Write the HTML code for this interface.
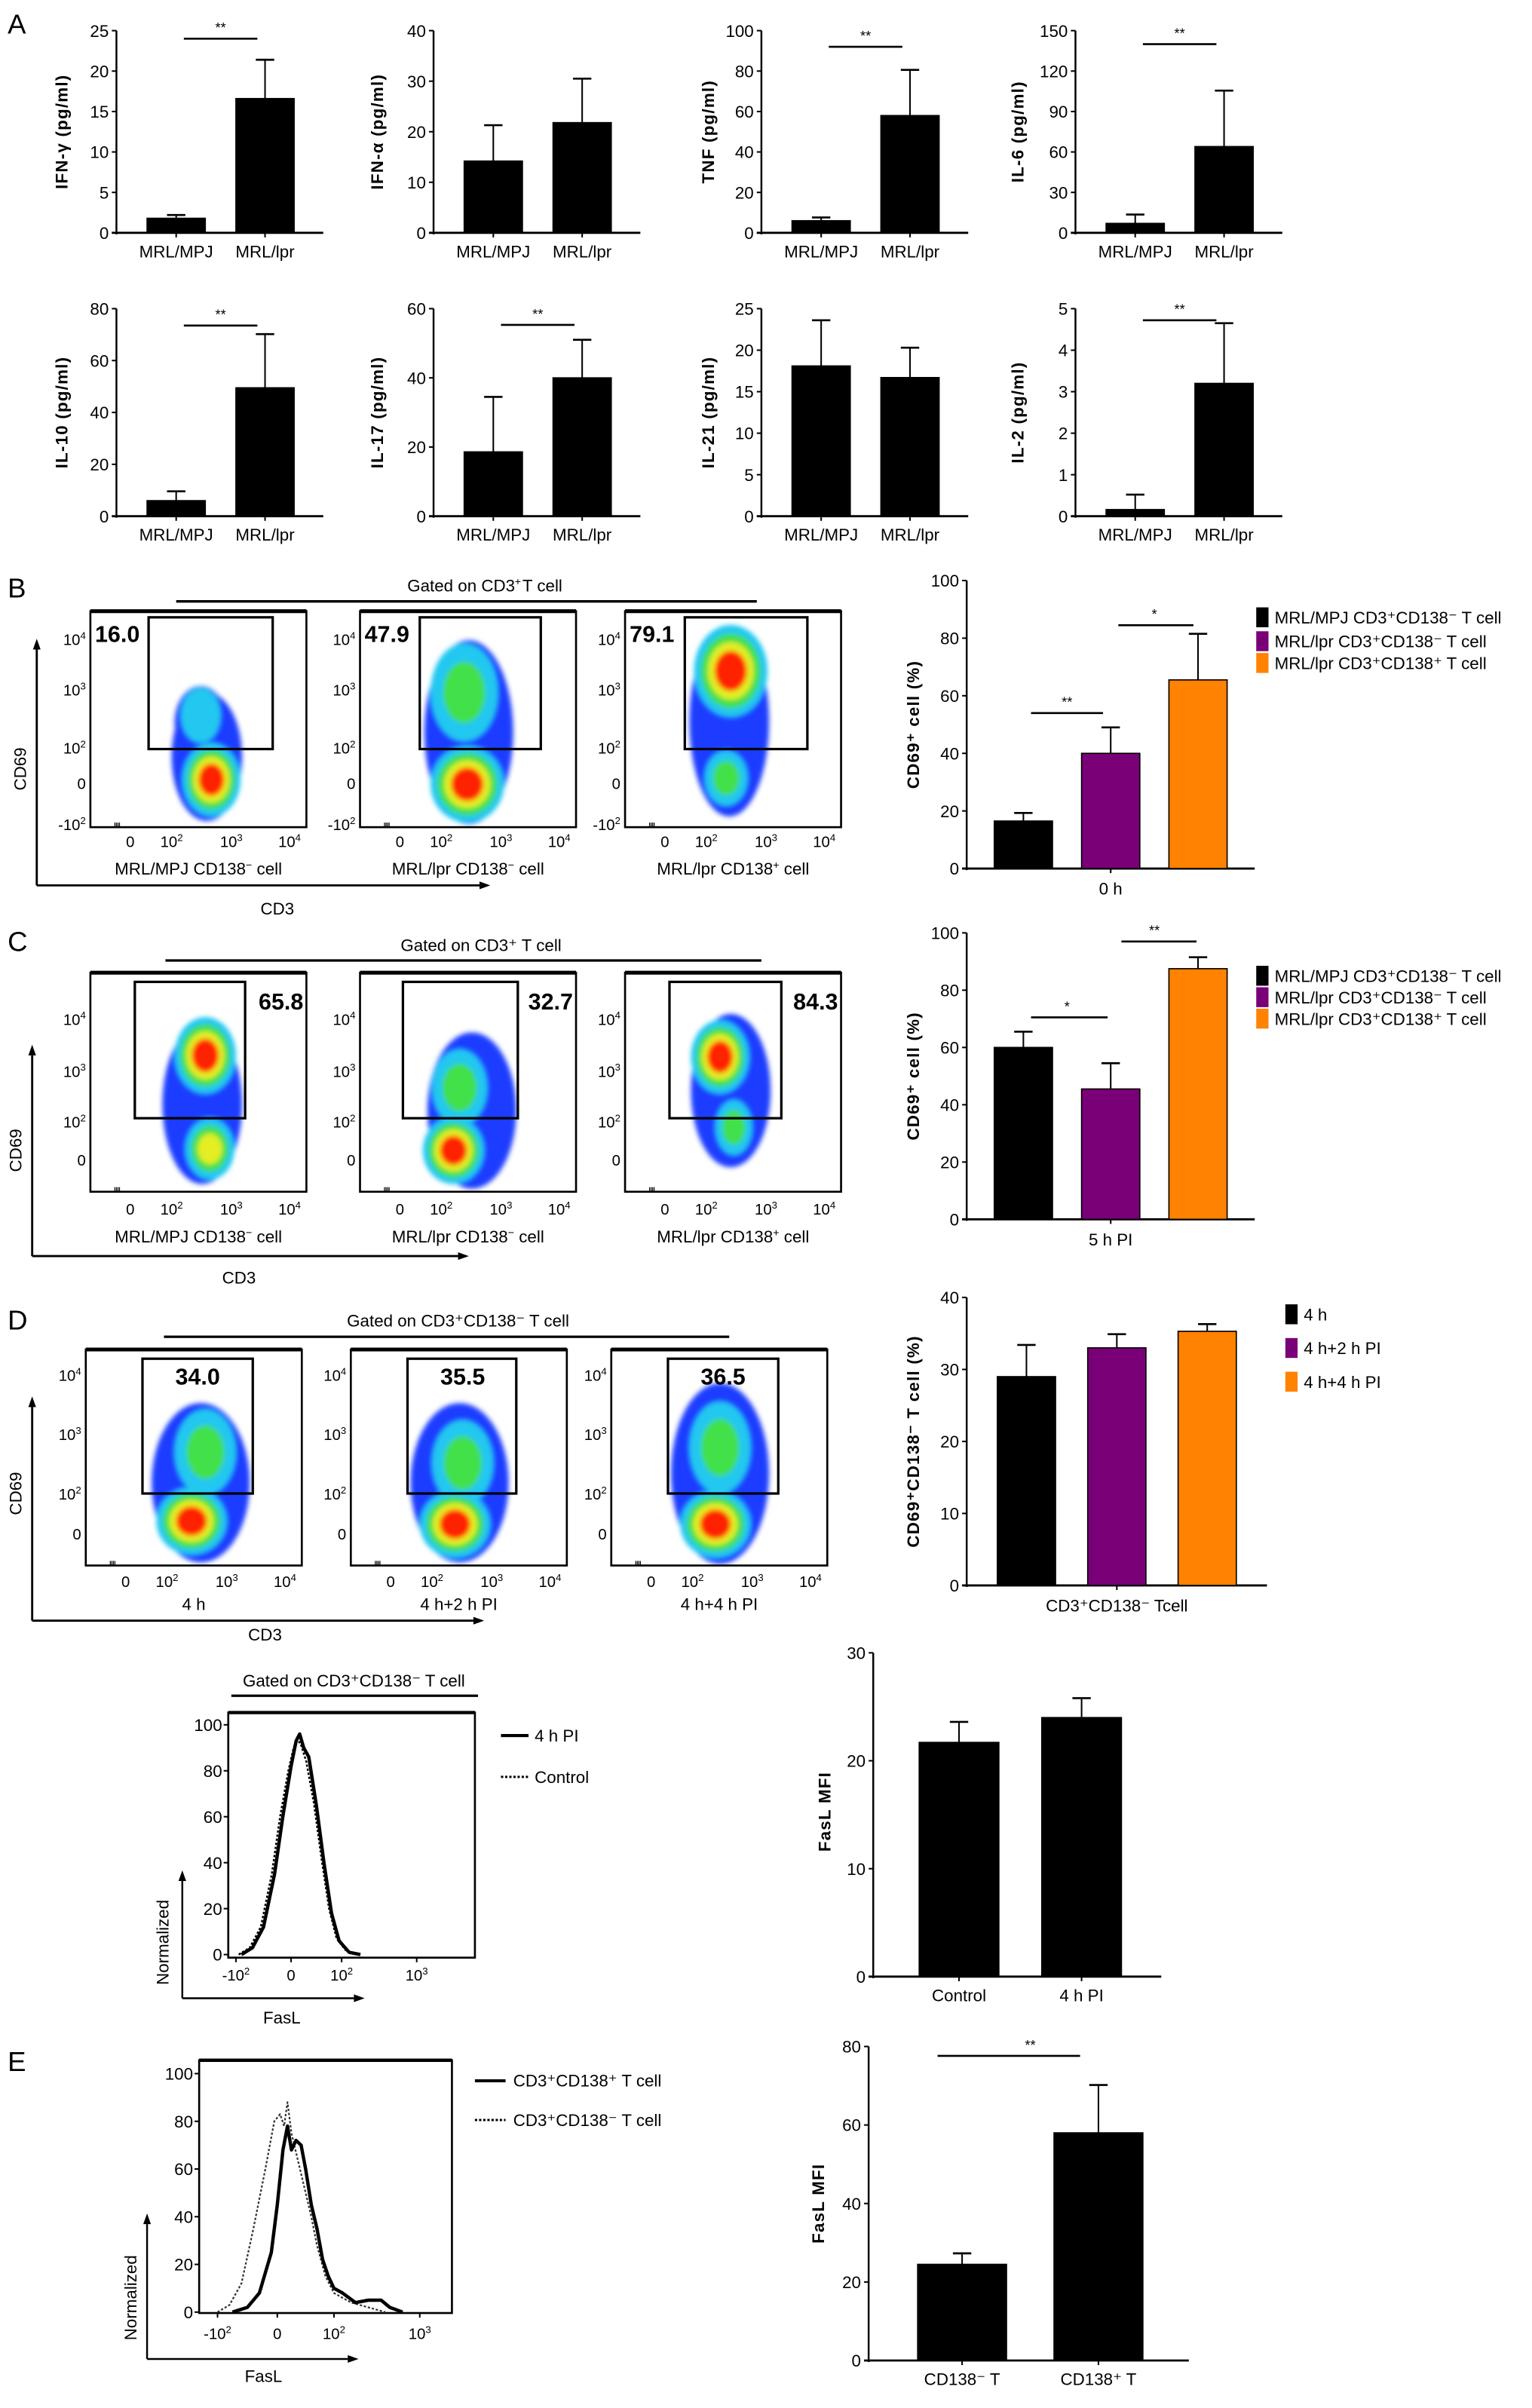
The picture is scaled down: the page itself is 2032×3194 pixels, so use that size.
<!DOCTYPE html>
<html><head><meta charset="utf-8"><style>
html,body{margin:0;padding:0;background:#fff;}
svg{display:block;font-family:"Liberation Sans",Arial,sans-serif;}
</style></head><body>
<svg id="fig" xmlns="http://www.w3.org/2000/svg" width="2032" height="3194" viewBox="0 0 1000 1572" preserveAspectRatio="none">
<defs>
<filter id="blur" x="-50%" y="-50%" width="200%" height="200%"><feGaussianBlur stdDeviation="1.6"/></filter>
</defs>
</svg>
<script>
// ---------- DATA ----------
const aCats = ['MRL/MPJ', 'MRL/lpr'];
const aTitles = ['IFN-γ (pg/ml)', 'IFN-α (pg/ml)', 'TNF (pg/ml)', 'IL-6 (pg/ml)', 'IL-10 (pg/ml)', 'IL-17 (pg/ml)', 'IL-21 (pg/ml)', 'IL-2 (pg/ml)'];
const aMeans = [[1.8, 16.6], [14.2, 21.8], [6, 58], [7, 64], [6, 49.5], [18.6, 40], [18.1, 16.7], [0.16, 3.2]];
const aErrTops = [[2.2, 21.4], [21.3, 30.5], [7.6, 80.6], [13.6, 105.5], [9.6, 70.2], [34.5, 51], [23.6, 20.3], [0.52, 4.65]];
const aMax = [25, 40, 100, 150, 80, 60, 25, 5];
const aStep = [5, 10, 20, 30, 20, 20, 5, 1];
const aSig = [24, null, 92, 140, 73.5, 55.3, null, 4.72];

const bCats = ['MRL/MPJ CD3⁺CD138⁻ T cell', 'MRL/lpr CD3⁺CD138⁻ T cell', 'MRL/lpr CD3⁺CD138⁺ T cell'];
const barColors = ['#000000', '#7a0078', '#ff8200'];
const bMeans = [16.5, 40, 65.5];
const bErrTops = [19.3, 49, 81.5];
const cMeans = [60, 45.5, 87.5];
const cErrTops = [65.5, 54.5, 91.5];
const flowPctB = ['16.0', '47.9', '79.1'];
const flowPctC = ['65.8', '32.7', '84.3'];
const flowPctD = ['34.0', '35.5', '36.5'];

const dCats = ['4  h', '4 h+2 h PI', '4 h+4 h PI'];
const dMeans = [29, 33, 35.3];
const dErrTops = [33.4, 34.9, 36.3];

const fCats = ['Control', '4 h PI'];
const fMeans = [21.7, 24];
const fErrTops = [23.6, 25.8];

const eCats = ['CD138⁻ T', 'CD138⁺ T'];
const eMeans = [24.5, 58];
const eErrTops = [27.3, 70.2];

const hDSolidX = [-0.9, -0.7, -0.5, -0.3, -0.15, 0, 0.1, 0.17, 0.25, 0.35, 0.5, 0.65, 0.8, 0.95, 1.1, 1.25];
const hDSolidY = [0, 3, 12, 35, 60, 82, 93, 96, 90, 86, 65, 40, 18, 6, 1, 0];
const hDDotX = [-0.95, -0.75, -0.55, -0.35, -0.2, -0.05, 0.05, 0.12, 0.2, 0.3, 0.45, 0.6, 0.75, 0.9, 1.05, 1.2];
const hDDotY = [0, 3, 12, 35, 60, 80, 90, 94, 91, 84, 66, 42, 20, 7, 2, 0];
const hESolidX = [-0.75, -0.5, -0.3, -0.1, 0, 0.1, 0.18, 0.25, 0.33, 0.42, 0.5, 0.6, 0.7, 0.8, 0.9, 1.0, 1.1, 1.25, 1.4, 1.55, 1.65, 1.8];
const hESolidY = [0, 2, 8, 25, 45, 68, 78, 68, 72, 70, 60, 45, 35, 22, 15, 10, 8, 4, 5, 5, 2, 0];
const hEDotX = [-1.0, -0.8, -0.6, -0.4, -0.2, -0.05, 0.05, 0.12, 0.18, 0.25, 0.35, 0.5, 0.6, 0.7, 0.85, 1.0, 1.2, 1.4, 1.6];
const hEDotY = [0, 3, 12, 35, 60, 80, 83, 78, 88, 75, 65, 50, 40, 28, 15, 8, 4, 2, 0];
const histTickVals = [-1, 0, 1, 2];
const histTickLabels = ['-10', '0', '10', '10'];
const histTickSups = ['2', '', '2', '3'];

// ---------- HELPERS ----------
const NS = 'http://www.w3.org/2000/svg';
const svg = document.getElementById('fig');
function el(tag, attrs, parent) {
  const e = document.createElementNS(NS, tag);
  for (const k in attrs) e.setAttribute(k, attrs[k]);
  (parent || svg).appendChild(e);
  return e;
}
function line(x1, y1, x2, y2, w, name, parent, dash) {
  const l = el('line', {x1, y1, x2, y2, stroke: '#000', 'stroke-width': w || 1}, parent);
  if (dash) l.setAttribute('stroke-dasharray', dash);
  
  
  return l;
}
function text(x, y, s, size, anchor, name, parent, extra) {
  const t = el('text', {x, y, 'font-size': size, 'text-anchor': anchor || 'middle', fill: '#000'}, parent);
  t.textContent = s;
  if (extra) for (const k in extra) t.setAttribute(k, extra[k]);
  
  
  return t;
}
function supText(x, y, base, sup, size, anchor, name, parent) {
  const t = el('text', {x, y, 'font-size': size, 'text-anchor': anchor || 'middle', fill: '#000'}, parent);
  const t1 = el('tspan', {}, t); t1.textContent = base;
  if (sup) { const t2 = el('tspan', {dy: -size * 0.4, 'font-size': size * 0.65}, t); t2.textContent = sup; }
  
  
  return t;
}
function arrowHead(x, y, dir, parent) {
  let pts;
  if (dir === 'up') pts = `${x},${y} ${x - 2.5},${y + 7} ${x + 2.5},${y + 7}`;
  else pts = `${x},${y} ${x - 7},${y - 2.5} ${x - 7},${y + 2.5}`;
  const p = el('polygon', {points: pts, fill: '#000'}, parent);
  
  
}

function barChart(o) {
  const g = el('g', {});
  
  
  const yS = v => o.yBot - (v / o.max) * (o.yBot - o.yTop);
  const xC = i => o.x0 + o.start + i * o.step + o.bw / 2;
  line(o.x0, o.yTop, o.x0, o.yBot + 1, 1.2, 'y-axis', g);
  line(o.x0 - 3, o.yBot, o.xEnd, o.yBot, 1.4, 'x-axis', g);
  for (let v = 0; v <= o.max + 1e-9; v += o.tick) {
    const y = yS(v);
    line(o.x0 - 3, y, o.x0, y, 1, 'y-tick', g);
    text(o.x0 - 5, y + 4, String(+v.toFixed(2)), o.fs || 11, 'end', 'y-tick-label', g);
  }
  o.means.forEach((m, i) => {
    const c = xC(i);
    const r = el('rect', {x: c - o.bw / 2, y: yS(m), width: o.bw, height: o.yBot - yS(m), fill: o.colors ? o.colors[i] : '#000', stroke: '#000', 'stroke-width': 0.8}, g);
    
    
    line(c, yS(m), c, yS(o.errs[i]), 1, 'error-bar', g);
    line(c - 6, yS(o.errs[i]), c + 6, yS(o.errs[i]), 1.3, 'error-cap', g);
    if (o.cats) {
      line(c, o.yBot, c, o.yBot + 3, 1, 'x-tick', g);
      text(c, o.yBot + 16, o.cats[i], o.fs || 11, 'middle', 'x-tick-label', g);
    }
  });
  if (o.groupLabel) {
    const mid = (xC(0) + xC(o.means.length - 1)) / 2;
    line(mid, o.yBot, mid, o.yBot + 3, 1, 'x-tick', g);
    text(mid, o.yBot + 17, o.groupLabel, 11, 'middle', 'x-group-label', g);
  }
  (o.sigs || []).forEach(s => {
    const y = yS(s.v);
    line(xC(s.a) + (s.pa || 5), y, xC(s.b) - (s.pb || 5), y, 1.3, 'significance-bar', g);
    text((xC(s.a) + xC(s.b)) / 2 + (s.off || 0), y - 4, s.t, 9, 'middle', 'significance-stars', g);
  });
  text(0, 0, o.title, o.tfs || 11, 'middle', 'y-axis-title', g, {transform: `translate(${o.tx},${(o.yTop + o.yBot) / 2 + (o.tyOff || 0)}) rotate(-90)`, 'letter-spacing': '0.6', 'font-weight': 'bold'});
  return g;
}

function legend(x, ys, labels, colors, name, fs) {
  labels.forEach((l, i) => {
    const r = el('rect', {x, y: ys[i] - 6.5, width: 8, height: 13, fill: colors[i]});
    
    
    text(x + 12, ys[i] + 4, l, fs || 11, 'start', name + '-entry', null);
  });
}

const ringColors = ['#1f3dff', '#20c8f0', '#43e04a', '#e4ee22', '#ff2200'];
function flow(o) {
  const g = el('g', {});
  
  
  const cid = 'clip' + o.name;
  const cp = el('clipPath', {id: cid}, g);
  el('rect', {x: o.x, y: o.y, width: o.w, height: o.h}, cp);
  const dens = el('g', {'clip-path': `url(#${cid})`}, g);
  const inner = el('g', {filter: 'url(#blur)'}, dens);
  
  
  o.body.forEach(b => el('ellipse', {cx: b[0], cy: b[1], rx: b[2], ry: b[3], fill: ringColors[0]}, inner));
  o.pops.forEach(p => {
    const L = p[4];
    for (let i = 1; i <= L; i++) {
      const f = 1 - (i - 1) / L * 0.75;
      el('ellipse', {cx: p[0], cy: p[1], rx: p[2] * f, ry: p[3] * f, fill: ringColors[i]}, inner);
    }
  });
  const box = el('rect', {x: o.x, y: o.y, width: o.w, height: o.h, fill: 'none', stroke: '#000', 'stroke-width': 1.3}, g);
  
  
  line(o.x, o.y, o.x + o.w, o.y, 2.5, 'plot-frame-top', g);
  const gate = el('rect', {x: o.gate[0], y: o.gate[1], width: o.gate[2] - o.gate[0], height: o.gate[3] - o.gate[1], fill: 'none', stroke: '#000', 'stroke-width': 1.6}, g);
  
  
  text(o.pct[0], o.pct[1], o.pct[2], 15, o.pct[3] || 'start', 'gate-percentage', g, {'font-weight': 'bold'});
  o.yt.forEach(t => supText(o.x - 3, o.y + t[0] + 4, t[1], t[2], 10, 'end', 'y-tick-label', g));
  const xo = [26, 53, 92, 130], xl = ['0', '10', '10', '10'], xs = ['', '2', '3', '4'];
  xo.forEach((d, i) => supText(o.x + d, o.xty, xl[i], xs[i], 10, 'middle', 'x-tick-label', g));
  for (let k = 0; k < 4; k++) line(o.x + 16 + k, o.y + o.h, o.x + 16 + k, o.y + o.h - 3, 0.6, 'x-minor-tick', g);
  if (o.label) {
    const t = el('text', {x: o.x + o.w / 2, y: o.labY, 'font-size': 11, 'text-anchor': 'middle'}, g);
    
    
    t.innerHTML = o.label;
  }
}

function hist(o) {
  const g = el('g', {});
  
  
  const xS = v => {
    const tp = o.tickPx;
    if (v <= 0) return tp[1] + (v) * (tp[1] - tp[0]);
    if (v <= 1) return tp[1] + v * (tp[2] - tp[1]);
    return tp[2] + (v - 1) * (tp[3] - tp[2]);
  };
  const yS = v => o.y0 - v / 100 * (o.y0 - o.y100);
  const box = el('rect', {x: o.x, y: o.y, width: o.w, height: o.h, fill: 'none', stroke: '#000', 'stroke-width': 1.3}, g);
  
  
  line(o.x, o.y, o.x + o.w, o.y, 2.2, 'plot-frame-top', g);
  for (let v = 0; v <= 100; v += 20) {
    line(o.x - 3, yS(v), o.x, yS(v), 1, 'y-tick', g);
    text(o.x - 4, yS(v) + 4, String(v), 11, 'end', 'y-tick-label', g);
  }
  histTickVals.forEach((v, i) => {
    line(xS(v), o.y + o.h, xS(v), o.y + o.h + 3, 1, 'x-tick', g);
    supText(xS(v), o.xty, histTickLabels[i], histTickSups[i], 10, 'middle', 'x-tick-label', g);
  });
  o.series.forEach(s => {
    const d = s.x.map((xv, i) => (i ? 'L' : 'M') + xS(xv).toFixed(2) + ' ' + yS(s.y[i]).toFixed(2)).join(' ');
    const p = el('path', {d, fill: 'none', stroke: s.color || '#000', 'stroke-width': s.w, 'stroke-linejoin': 'round'}, g);
    if (s.dash) p.setAttribute('stroke-dasharray', s.dash);
    
    
  });
}

// ---------- PANEL A ----------
text(5, 22, 'A', 18, 'start', 'panel-label-a');
const aX = [76, 283, 497, 702];
const aTx = [44, 250, 466, 668];
for (let k = 0; k < 8; k++) {
  const row = k < 4 ? 0 : 1;
  const col = k % 4;
  const sig = aSig[k] != null ? [{a: 0, b: 1, v: aSig[k], t: '**'}] : [];
  barChart({name: 'chart-' + aTitles[k].split(' ')[0].toLowerCase(), x0: aX[col], xEnd: aX[col] + 135, yTop: row ? 201.5 : 20, yBot: row ? 337 : 152,
    max: aMax[k], tick: aStep[k], start: 20, step: 58, bw: 38, means: aMeans[k], errs: aErrTops[k], cats: aCats,
    sigs: sig, title: aTitles[k], tx: aTx[col]});
}

// ---------- PANEL B ----------
text(5, 390, 'B', 18, 'start', 'panel-label-b');
text(301, 386, 'Gated on CD3', 11, 'middle', 'gate-title-b');
text(336, 382, '+', 7, 'start', 'gate-title-sup');
text(341, 386, 'T cell', 11, 'start', 'gate-title-b2');
line(115, 392.6, 494, 392.6, 1.6, 'gate-title-bar');
const ytB = [[18, '10', '4'], [51, '10', '3'], [89, '10', '2'], [112, '0', ''], [139, '-10', '2']];
flow({name: 'flow-b1', x: 59, y: 399, w: 141, h: 141, gate: [97, 403, 178, 489], pct: [62, 419, flowPctB[0]], yt: ytB, xty: 553,
  body: [[135, 494, 23, 42], [131, 472, 17, 24]], pops: [[138, 509, 19, 24, 4], [131, 467, 13, 18, 1]], labY: 571, label: 'MRL/MPJ CD138<tspan dy="-4" font-size="7">−</tspan><tspan dy="4"> cell</tspan>'});
flow({name: 'flow-b2', x: 235, y: 399, w: 141, h: 141, gate: [274, 403, 353, 489], pct: [238, 419, flowPctB[1]], yt: ytB, xty: 553,
  body: [[306, 478, 29, 60]], pops: [[303, 452, 22, 32, 2], [305, 512, 24, 25, 4]], labY: 571, label: 'MRL/lpr CD138<tspan dy="-4" font-size="7">−</tspan><tspan dy="4"> cell</tspan>'});
flow({name: 'flow-b3', x: 408, y: 399, w: 141, h: 141, gate: [447, 403, 527, 489], pct: [411, 419, flowPctB[2]], yt: ytB, xty: 553,
  body: [[476, 471, 26, 62]], pops: [[477, 438, 24, 30, 4], [474, 508, 14, 18, 2]], labY: 571, label: 'MRL/lpr CD138<tspan dy="-4" font-size="7">+</tspan><tspan dy="4"> cell</tspan>'});
line(24, 578, 24, 424, 1.4, 'cd69-axis-b'); arrowHead(24, 417, 'up');
line(24, 578, 313, 578, 1.4, 'cd3-axis-b'); arrowHead(320, 578, 'right');
text(181, 597, 'CD3', 11, 'middle', 'x-axis-title-b');
text(0, 0, 'CD69', 11, 'middle', 'y-axis-title-b', null, {transform: 'translate(17,502) rotate(-90)'});

barChart({name: 'chart-cd69-0h', x0: 631, xEnd: 819, yTop: 379, yBot: 567, max: 100, tick: 20, start: 18, step: 57, bw: 38,
  means: bMeans, errs: bErrTops, colors: barColors, groupLabel: '0 h',
  sigs: [{a: 0, b: 1, v: 54, t: '**', pa: 0, pb: 0}, {a: 1, b: 2, v: 84.5, t: '*', pa: 0, pb: 3}],
  title: 'CD69⁺ cell (%)', tx: 600});
legend(820, [403, 418.6, 432.8], bCats, barColors, 'legend-b', 11);

// ---------- PANEL C ----------
text(5, 621, 'C', 18, 'start', 'panel-label-c');
text(314, 621, 'Gated on CD3⁺ T cell', 11, 'middle', 'gate-title-c');
line(108, 627, 497, 627, 1.6, 'gate-title-bar');
const ytC = [[30, '10', '4'], [64, '10', '3'], [97, '10', '2'], [122, '0', '']];
flow({name: 'flow-c1', x: 59, y: 635, w: 141, h: 143, gate: [88, 641, 160, 730], pct: [198, 659, flowPctC[0], 'end'], yt: ytC, xty: 793,
  body: [[132, 721, 26, 52]], pops: [[134, 689, 20, 25, 4], [137, 750, 16, 20, 3]], labY: 811, label: 'MRL/MPJ CD138<tspan dy="-4" font-size="7">−</tspan><tspan dy="4"> cell</tspan>'});
flow({name: 'flow-c2', x: 235, y: 635, w: 141, h: 143, gate: [263, 641, 338, 730], pct: [374, 659, flowPctC[1], 'end'], yt: ytC, xty: 793,
  body: [[308, 725, 29, 51]], pops: [[300, 710, 18, 25, 2], [296, 751, 20, 22, 4]], labY: 811, label: 'MRL/lpr CD138<tspan dy="-4" font-size="7">−</tspan><tspan dy="4"> cell</tspan>'});
flow({name: 'flow-c3', x: 408, y: 635, w: 141, h: 143, gate: [437, 641, 510, 730], pct: [547, 659, flowPctC[2], 'end'], yt: ytC, xty: 793,
  body: [[477, 712, 26, 50]], pops: [[470, 690, 19, 24, 4], [479, 736, 12, 18, 2]], labY: 811, label: 'MRL/lpr CD138<tspan dy="-4" font-size="7">+</tspan><tspan dy="4"> cell</tspan>'});
line(21, 820, 21, 689, 1.4, 'cd69-axis-c'); arrowHead(21, 682, 'up');
line(21, 820, 299, 820, 1.4, 'cd3-axis-c'); arrowHead(306, 820, 'right');
text(156, 838, 'CD3', 11, 'middle', 'x-axis-title-c');
text(0, 0, 'CD69', 11, 'middle', 'y-axis-title-c', null, {transform: 'translate(14,751) rotate(-90)'});

barChart({name: 'chart-cd69-5h', x0: 631, xEnd: 819, yTop: 609, yBot: 796, max: 100, tick: 20, start: 18, step: 57, bw: 38,
  means: cMeans, errs: cErrTops, colors: barColors, groupLabel: '5 h PI',
  sigs: [{a: 0, b: 1, v: 70.5, t: '*', pa: 0, pb: 2}, {a: 1, b: 2, v: 97, t: '**', pa: 7, pb: 1}],
  title: 'CD69⁺ cell (%)', tx: 600});
legend(820, [637, 651, 665], bCats, barColors, 'legend-c', 11);

// ---------- PANEL D ----------
text(5, 868, 'D', 18, 'start', 'panel-label-d');
text(299, 866, 'Gated on CD3⁺CD138⁻ T cell', 11, 'middle', 'gate-title-d');
line(107, 872.7, 476, 872.7, 1.6, 'gate-title-bar');
const ytD = [[16.5, '10', '4'], [55, '10', '3'], [94, '10', '2'], [120, '0', '']];
flow({name: 'flow-d1', x: 56, y: 881, w: 141, h: 141, gate: [93, 887, 165, 975], pct: [129, 904, flowPctD[0], 'middle'], yt: ytD, xty: 1036,
  body: [[131, 968, 32, 52]], pops: [[134, 948, 20, 28, 2], [125, 993, 23, 22, 4]], labY: 1051, label: '4 h'});
flow({name: 'flow-d2', x: 229, y: 881, w: 141, h: 141, gate: [266, 887, 337, 975], pct: [302, 904, flowPctD[1], 'middle'], yt: ytD, xty: 1036,
  body: [[300, 968, 32, 52]], pops: [[302, 955, 20, 28, 2], [297, 995, 23, 22, 4]], labY: 1051, label: '4 h+2 h PI'});
flow({name: 'flow-d3', x: 399, y: 881, w: 141, h: 141, gate: [436, 887, 508, 975], pct: [472, 904, flowPctD[2], 'middle'], yt: ytD, xty: 1036,
  body: [[470, 962, 32, 59]], pops: [[470, 945, 20, 30, 2], [467, 995, 23, 22, 4]], labY: 1051, label: '4 h+4 h PI'});
line(21, 1058, 21, 918, 1.4, 'cd69-axis-d'); arrowHead(21, 911.6, 'up');
line(21, 1058, 309, 1058, 1.4, 'cd3-axis-d'); arrowHead(316, 1058, 'right');
text(173, 1071, 'CD3', 11, 'middle', 'x-axis-title-d');
text(0, 0, 'CD69', 11, 'middle', 'y-axis-title-d', null, {transform: 'translate(14,975) rotate(-90)'});

barChart({name: 'chart-cd69-cd138neg', x0: 631, xEnd: 827, yTop: 847, yBot: 1035, max: 40, tick: 10, start: 20, step: 59, bw: 38,
  means: dMeans, errs: dErrTops, colors: barColors, groupLabel: 'CD3⁺CD138⁻ Tcell',
  title: 'CD69⁺CD138⁻ T cell (%)', tx: 600});
legend(839, [858, 880, 902], dCats, barColors, 'legend-d', 11);

text(231, 1101, 'Gated on CD3⁺CD138⁻ T cell', 11, 'middle', 'gate-title-fasl');
line(151, 1107, 312, 1107, 1.6, 'gate-title-bar');
hist({name: 'hist-fasl-d', x: 149, y: 1118, w: 161, h: 160, y0: 1276, y100: 1126, tickPx: [154, 190, 223, 272], xty: 1293,
  series: [{x: hDDotX, y: hDDotY, w: 1.2, dash: '1.5 1.2', name: 'control-curve'}, {x: hDSolidX, y: hDSolidY, w: 2.2, name: '4h-pi-curve'}]});
line(119, 1304.5, 119, 1228, 1.2, 'normalized-axis'); arrowHead(119, 1221, 'up');
line(119, 1304.5, 231, 1304.5, 1.2, 'fasl-axis'); arrowHead(238, 1304.5, 'right');
text(0, 0, 'Normalized', 11, 'middle', 'y-axis-title', null, {transform: 'translate(110,1268) rotate(-90)'});
text(184, 1321, 'FasL', 11, 'middle', 'x-axis-title');
line(327, 1133, 345, 1133, 2, 'legend-line-solid');
text(349, 1137, '4 h PI', 11, 'start', 'legend-entry');
line(327, 1160, 345, 1160, 1.5, 'legend-line-dotted', null, '1.5 1.2');
text(349, 1164, 'Control', 11, 'start', 'legend-entry');

barChart({name: 'chart-fasl-mfi-d', x0: 570, xEnd: 758, yTop: 1079, yBot: 1290.4, max: 30, tick: 10, start: 30, step: 80, bw: 52,
  means: fMeans, errs: fErrTops, cats: fCats, title: 'FasL MFI', tx: 542, tyOff: -2});

// ---------- PANEL E ----------
text(5, 1352, 'E', 18, 'start', 'panel-label-e');
hist({name: 'hist-fasl-e', x: 130, y: 1345, w: 165, h: 165, y0: 1509.4, y100: 1353.7, tickPx: [142, 181, 218, 274], xty: 1527,
  series: [{x: hEDotX, y: hEDotY, w: 1.1, dash: '1.5 1.2', color: '#333', name: 'cd138neg-curve'}, {x: hESolidX, y: hESolidY, w: 2.2, name: 'cd138pos-curve'}]});
line(96, 1540, 96, 1452, 1.2, 'normalized-axis-e'); arrowHead(96, 1445, 'up');
line(96, 1540, 227, 1540, 1.2, 'fasl-axis-e'); arrowHead(234, 1540, 'right');
text(0, 0, 'Normalized', 11, 'middle', 'y-axis-title', null, {transform: 'translate(89,1500) rotate(-90)'});
text(172, 1555, 'FasL', 11, 'middle', 'x-axis-title');
line(310, 1358.4, 330, 1358.4, 2, 'legend-line-solid');
text(335, 1362, 'CD3⁺CD138⁺ T cell', 11, 'start', 'legend-entry');
line(310, 1384, 330, 1384, 1.5, 'legend-line-dotted', null, '1.5 1.2');
text(335, 1388, 'CD3⁺CD138⁻ T cell', 11, 'start', 'legend-entry');

barChart({name: 'chart-fasl-mfi-e', x0: 567, xEnd: 776, yTop: 1336, yBot: 1541, max: 80, tick: 20, start: 32, step: 89, bw: 58,
  means: eMeans, errs: eErrTops, cats: eCats,
  sigs: [{a: 0, b: 1, v: 77.6, t: '**', pa: -16, pb: 12}],
  title: 'FasL MFI', tx: 538});
</script>
</body></html>
